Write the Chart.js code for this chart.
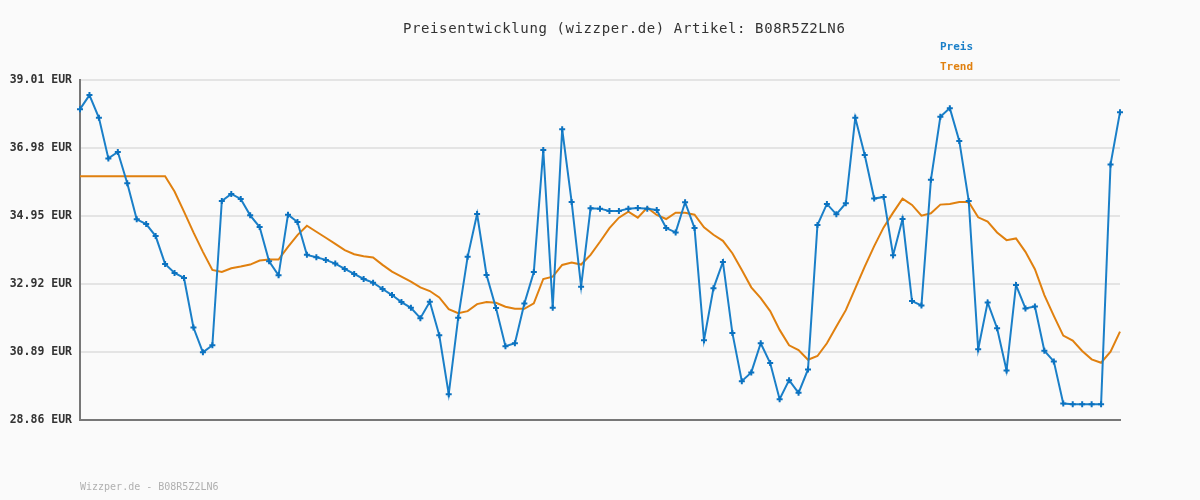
<!DOCTYPE html>
<html>
<head>
<meta charset="utf-8">
<script src="https://cdn.jsdelivr.net/npm/chart.js@4/dist/chart.umd.min.js"></script>
<style>
  html, body { margin: 0; padding: 0; background: #fafafa; }
  #wrap { width: 1200px; height: 500px; }
</style>
</head>
<body>
<div id="wrap"><canvas id="priceChart"></canvas></div>
<script>
// Preis (EUR) je Messpunkt
const preis = [
  38.14, 38.56, 37.88, 36.67, 36.86, 35.93, 34.85, 34.71, 34.35, 33.52,
  33.25, 33.10, 31.62, 30.88, 31.09, 35.40, 35.61, 35.46, 34.97, 34.62,
  33.60, 33.18, 34.99, 34.77, 33.79, 33.72, 33.64, 33.53, 33.37, 33.22,
  33.07, 32.96, 32.77, 32.59, 32.38, 32.21, 31.90, 32.39, 31.39, 29.63,
  31.91, 33.73, 35.01, 33.19, 32.20, 31.06, 31.15, 32.34, 33.28, 36.92,
  32.21, 37.54, 35.37, 32.84, 35.18, 35.17, 35.10, 35.10, 35.17, 35.19,
  35.17, 35.13, 34.59, 34.46, 35.36, 34.59, 31.24, 32.79, 33.58, 31.46,
  30.02, 30.28, 31.15, 30.56, 29.48, 30.05, 29.67, 30.37, 34.68, 35.31,
  35.00, 35.33, 37.88, 36.77, 35.47, 35.52, 33.78, 34.86, 32.41, 32.28,
  36.03, 37.91, 38.17, 37.19, 35.40, 30.97, 32.37, 31.60, 30.34, 32.89,
  32.19, 32.25, 30.93, 30.61, 29.35, 29.33, 29.33, 29.33, 29.33, 36.49,
  38.05
];

// Trendlinie
const trend = [
  36.14, 36.14, 36.14, 36.14, 36.14, 36.14, 36.14, 36.14, 36.14, 36.14,
  35.68, 35.08, 34.46, 33.88, 33.34, 33.28, 33.39, 33.44, 33.50, 33.62,
  33.65, 33.65, 34.03, 34.38, 34.66, 34.48, 34.30, 34.12, 33.93, 33.81,
  33.75, 33.71, 33.49, 33.29, 33.14, 32.99, 32.82, 32.71, 32.52, 32.17,
  32.05, 32.11, 32.32, 32.38, 32.36, 32.24, 32.18, 32.18, 32.34, 33.07,
  33.14, 33.49, 33.56, 33.50, 33.79, 34.18, 34.59, 34.90, 35.08, 34.90,
  35.20, 34.98, 34.86, 35.05, 35.05, 34.99, 34.61, 34.39, 34.21, 33.84,
  33.34, 32.82, 32.50, 32.11, 31.55, 31.09, 30.95, 30.66, 30.77, 31.15,
  31.65, 32.14, 32.79, 33.44, 34.05, 34.61, 35.05, 35.47, 35.28, 34.96,
  35.03, 35.29, 35.31, 35.37, 35.37, 34.91, 34.78, 34.46, 34.23, 34.28,
  33.88, 33.36, 32.59, 31.97, 31.38, 31.23, 30.92, 30.67, 30.57, 30.90,
  31.50
];

const yTicks = [28.86, 30.89, 32.92, 34.95, 36.98, 39.01];
const labels = preis.map((_, i) => String(i + 1));

const titleText = 'Preisentwicklung (wizzper.de) Artikel: B08R5Z2LN6';
const footerText = 'Wizzper.de - B08R5Z2LN6';
const mono = '"DejaVu Sans Mono", "Liberation Mono", monospace';

// Titel, Legende und Fußzeile selbst zeichnen
const textPlugin = {
  id: 'texte',
  afterDraw(chart) {
    const ctx = chart.ctx;
    ctx.save();
    ctx.textBaseline = 'middle';
    ctx.textAlign = 'left';

    ctx.font = '14px ' + mono;
    ctx.letterSpacing = '0.6px';
    ctx.fillStyle = '#333333';
    ctx.fillText(titleText, 403, 29);

    ctx.letterSpacing = '0px';
    ctx.font = 'bold 11px ' + mono;
    ctx.fillStyle = '#1a7fc8';
    ctx.fillText('Preis', 940, 47);
    ctx.fillStyle = '#e0800f';
    ctx.fillText('Trend', 940, 67);

    ctx.font = '10px ' + mono;
    ctx.fillStyle = '#b0b0b0';
    ctx.fillText(footerText, 80, 487);
    ctx.restore();
  }
};

new Chart(document.getElementById('priceChart'), {
  type: 'line',
  data: {
    labels: labels,
    datasets: [
      {
        label: 'Preis',
        data: preis,
        borderColor: '#1a7fc8',
        backgroundColor: '#1a7fc8',
        borderWidth: 2,
        pointStyle: 'cross',
        pointRadius: 3,
        pointBorderWidth: 2,
        pointBorderColor: '#0b72c0',
        tension: 0,
        order: 1
      },
      {
        label: 'Trend',
        data: trend,
        borderColor: '#e0800f',
        borderWidth: 2,
        pointRadius: 0,
        tension: 0,
        order: 2
      }
    ]
  },
  options: {
    responsive: true,
    maintainAspectRatio: false,
    animation: false,
    layout: { padding: { top: 80, right: 80, bottom: 80, left: 0 } },
    plugins: {
      legend: { display: false },
      title: { display: false },
      tooltip: { enabled: false }
    },
    scales: {
      x: {
        offset: false,
        grid: { display: false, drawTicks: false },
        border: { display: true, color: '#777777', width: 2 },
        ticks: { display: false },
        afterFit: scale => { scale.height = 0; }
      },
      y: {
        min: 28.86,
        max: 39.01,
        afterBuildTicks: scale => {
          scale.ticks = yTicks.map(v => ({ value: v }));
        },
        afterFit: scale => { scale.width = 80; },
        grid: { color: '#e4e4e4', lineWidth: 2, drawTicks: false },
        border: { display: true, color: '#777777', width: 2 },
        ticks: {
          padding: 8,
          color: '#333333',
          font: { family: mono, size: 11.5, weight: 'bold' },
          callback: v => v.toFixed(2) + ' EUR'
        }
      }
    }
  },
  plugins: [textPlugin]
});
</script>
</body>
</html>
